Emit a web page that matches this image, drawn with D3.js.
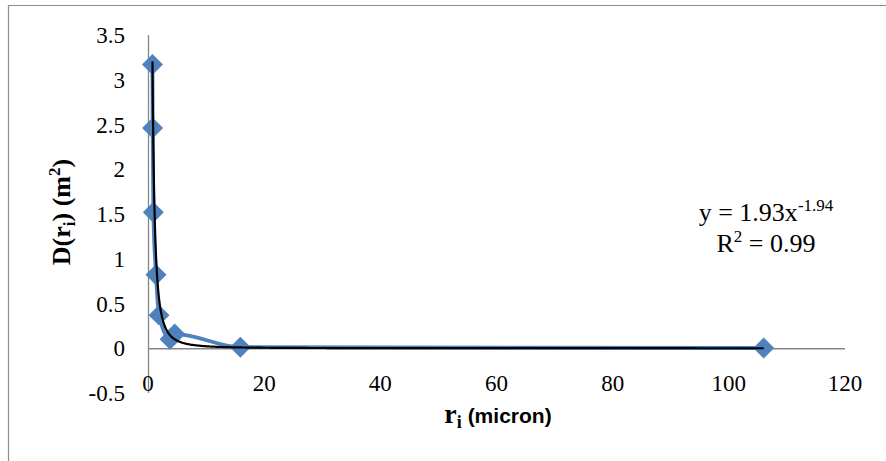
<!DOCTYPE html>
<html>
<head>
<meta charset="utf-8">
<script src="https://cdn.jsdelivr.net/npm/d3@7"></script>
<style>
  html, body { margin: 0; padding: 0; background: #fff; }
  svg { display: block; }
</style>
</head>
<body>
<svg id="chart" width="886" height="461"></svg>
<script>
// ---- data ----
const radius = [0.77, 0.80, 0.92, 1.38, 1.90, 3.80, 4.60, 15.9, 106];
const density = [3.17, 2.46, 1.52, 0.82, 0.37, 0.10, 0.16, 0.012, 0.003];
const trendCoef = [1.93];
const trendExp = [-1.94];
const xTicks = [0, 20, 40, 60, 80, 100, 120];
const yTicks = [-0.5, 0, 0.5, 1, 1.5, 2, 2.5, 3, 3.5];
const eqLabel = ["y = 1.93x", "-1.94"];
const r2Label = ["R", "2", " = 0.99"];

const svg = d3.select("#chart");
const serif = "'Liberation Serif', 'DejaVu Serif', serif";
const sans = "'Liberation Sans', Arial, sans-serif";
const axisColor = "#868686";
const blue = "#4F81BD";

const x = d3.scaleLinear().domain([0, 120]).range([148, 845]);
const y = d3.scaleLinear().domain([-0.5, 3.5]).range([393, 35]);

// outer frame (left and top edges)
svg.append("path")
  .attr("d", "M8.5,461 V5.5 H886")
  .attr("fill", "none").attr("stroke", "#8c8c8c").attr("stroke-width", 1.2);

// axes lines
svg.append("line")
  .attr("x1", x(0) + 0.5).attr("x2", x(0) + 0.5)
  .attr("y1", y(3.5)).attr("y2", y(-0.5))
  .attr("stroke", axisColor).attr("stroke-width", 1.3);
svg.append("line")
  .attr("x1", x(0)).attr("x2", x(120))
  .attr("y1", y(0) + 0.5).attr("y2", y(0) + 0.5)
  .attr("stroke", axisColor).attr("stroke-width", 1.3);

// y tick labels
svg.append("g").selectAll("text").data(yTicks).join("text")
  .attr("x", 125).attr("y", d => y(d)).attr("dy", "0.35em")
  .attr("text-anchor", "end")
  .attr("font-family", serif).attr("font-size", 23)
  .text(d => d);

// x tick labels
svg.append("g").selectAll("text").data(xTicks).join("text")
  .attr("x", d => x(d)).attr("y", 391)
  .attr("text-anchor", "middle")
  .attr("font-family", serif).attr("font-size", 23)
  .text(d => d);

// series line (smoothed)
const line = d3.line()
  .x((d, i) => x(radius[i])).y((d, i) => y(density[i]))
  .curve(d3.curveMonotoneX);
svg.append("path")
  .datum(density)
  .attr("d", line)
  .attr("fill", "none").attr("stroke", blue).attr("stroke-width", 3.8)
  .attr("stroke-linejoin", "round");

// markers (diamonds)
const diamond = d3.symbol().type(d3.symbolSquare).size(220);
svg.append("g").selectAll("path").data(density).join("path")
  .attr("d", diamond)
  .attr("transform", (d, i) => `translate(${x(radius[i])},${y(density[i])}) rotate(45)`)
  .attr("fill", blue);

// power trendline
const xmin = d3.min(radius), xmax = d3.max(radius);
const samples = d3.range(0, 401).map(k => xmin * Math.pow(xmax / xmin, k / 400));
const trend = d3.line()
  .x(d => x(d)).y(d => y(trendCoef[0] * Math.pow(d, trendExp[0])));
svg.append("path")
  .datum(samples)
  .attr("d", trend)
  .attr("fill", "none").attr("stroke", "#000").attr("stroke-width", 2.2);

// equation labels
const eq = svg.append("text")
  .attr("x", 766).attr("y", 221)
  .attr("text-anchor", "middle")
  .attr("font-family", serif).attr("font-size", 26);
eq.append("tspan").text(eqLabel[0]);
eq.append("tspan").attr("dy", -10).attr("font-size", 17).text(eqLabel[1]);

const r2 = svg.append("text")
  .attr("x", 766).attr("y", 252)
  .attr("text-anchor", "middle")
  .attr("font-family", serif).attr("font-size", 26);
r2.append("tspan").text(r2Label[0]);
r2.append("tspan").attr("dy", -10).attr("font-size", 17).text(r2Label[1]);
r2.append("tspan").attr("dy", 10).text(r2Label[2]);

// x axis title
const xt = svg.append("text")
  .attr("x", 498).attr("y", 423)
  .attr("text-anchor", "middle");
xt.append("tspan").attr("font-family", serif).attr("font-weight", "bold").attr("font-size", 28).text("r");
xt.append("tspan").attr("font-family", serif).attr("font-weight", "bold").attr("font-size", 18).attr("dy", 5).text("i");
xt.append("tspan").attr("font-family", sans).attr("font-weight", "bold").attr("font-size", 21).attr("dy", -5).text(" (micron)");

// y axis title
const yt = svg.append("text")
  .attr("transform", "translate(70,212) rotate(-90)")
  .attr("text-anchor", "middle")
  .attr("font-family", serif).attr("font-weight", "bold").attr("font-size", 26);
yt.append("tspan").text("D(r");
yt.append("tspan").attr("font-size", 17).attr("dy", 5).text("i");
yt.append("tspan").attr("dy", -5).text(") (m");
yt.append("tspan").attr("font-size", 17).attr("dy", -10).text("2");
yt.append("tspan").attr("dy", 10).text(")");
</script>
</body>
</html>
